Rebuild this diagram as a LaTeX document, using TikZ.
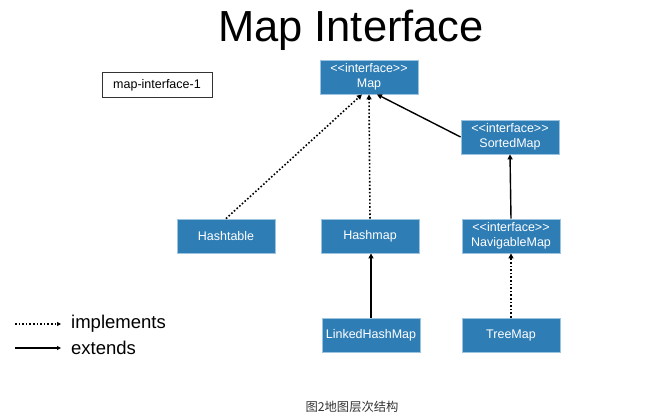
\documentclass[tikz,border=0pt]{standalone}
\usepackage{fontspec}
\setmainfont{Liberation Sans}
\newfontfamily\cjk{Noto Sans CJK SC}
\usetikzlibrary{calc,arrows.meta}
\definecolor{boxblue}{HTML}{2F7DB5}
\definecolor{boxedge}{HTML}{9CC3DF}
\newcommand{\iface}{{<}{<}interface{>}{>}}
\tikzset{
  cls/.style={draw=boxedge, line width=0.8pt, fill=boxblue, text=white, minimum width=98pt, minimum height=34pt, inner sep=1pt, align=center, font=\fontsize{12.5}{15}\selectfont},
  impl/.style={line width=1.6pt, dotted, -{Triangle[length=5pt,width=5pt]}},
  ext/.style={line width=1.4pt, -{Triangle[length=5pt,width=5pt]}},
}
\begin{document}
\begin{tikzpicture}[x=1pt,y=-1pt]
\useasboundingbox (0,0) rectangle (646,420);
\node (title) at (351,30) {\fontsize{43.5}{50}\selectfont Map Interface};
\node[draw=black!80, line width=0.8pt, minimum width=110pt, minimum height=25pt, inner sep=1pt, font=\fontsize{12.5}{14}\selectfont] (tag) at (157,85) {map-interface-1};
\node[cls] (map) at (369,77) {\iface\\Map};
\node[cls] (sorted) at (510,137) {\iface\\SortedMap};
\node[cls] (hashtable) at (226,236) {Hashtable};
\node[cls] (hashmap) at (370,236) {Hashmap};
\node[cls] (nav) at (511,236) {\iface\\NavigableMap};
\node[cls] (linked) at (371,335) {LinkedHashMap};
\node[cls] (tree) at (511,335) {TreeMap};
\coordinate (m1) at ($(map.south)+(-7,0)$);
\coordinate (m2) at ($(map.south)+(0,0)$);
\coordinate (m3) at ($(map.south)+(8,0)$);
\draw[impl] (hashtable.north) -- (m1);
\draw[impl] (hashmap.north) -- (m2);
\draw[ext] (sorted.west) -- (m3);
\draw[ext] (nav.north) -- (sorted.south);
\draw[ext] (linked.north) -- (linked.north |- hashmap.south);
\draw[impl] (tree.north) -- (nav.south);
% legend
\coordinate (l1a) at (15,324);
\coordinate (l1b) at (61,324);
\coordinate (l2a) at (15,348);
\coordinate (l2b) at (61,348);
\draw[impl, line width=1.2pt, -{Triangle[length=4pt,width=4pt]}] (l1a) -- (l1b);
\draw[ext, line width=1.2pt, -{Triangle[length=4pt,width=4pt]}] (l2a) -- (l2b);
\node[anchor=west, font=\fontsize{18.5}{20}\selectfont, inner sep=0pt] (limpl) at (71,324) {implements};
\node[anchor=west, font=\fontsize{18.5}{20}\selectfont, inner sep=0pt] (lext) at (71,348) {extends};
\node[font=\cjk\fontsize{12.3}{14}\selectfont, text=black!80] (cap) at (352,407) {图2地图层次结构};
\end{tikzpicture}
\end{document}
